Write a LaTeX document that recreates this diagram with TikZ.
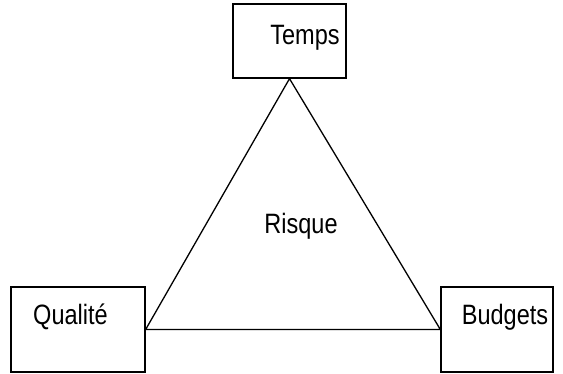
\documentclass[tikz,border=0pt]{standalone}
\usepackage{fontspec}
\setmainfont[FakeStretch=0.84]{Liberation Sans}
\begin{document}
\begin{tikzpicture}[x=1pt, y=-1pt,
        box/.style={draw, line width=1.3pt, inner sep=0pt},
        word/.style={font=\fontsize{28}{32}\selectfont, anchor=base, inner sep=0pt}]
        \useasboundingbox (0,0) rectangle (563,374);

        \node[box, minimum width=113pt, minimum height=74pt] (temps) at (289.5, 41) {};
        \node[box, minimum width=134pt, minimum height=85pt] (qualite) at (78, 329.5) {};
        \node[box, minimum width=112pt, minimum height=85pt] (budgets) at (497, 329.5) {};

        \node[word] (temps_txt) at (305, 45) {Temps};
        \node[word] (qualite_txt) at (70.5, 325) {Qualité};
        \node[word] (budgets_txt) at (505, 325) {Budgets};
        \node[word] (risque) at (301, 234) {Risque};

        \draw[line width=1.3pt]
            (temps.south) -- (qualite.east) -- (budgets.west) -- cycle;
    \end{tikzpicture}
\end{document}
